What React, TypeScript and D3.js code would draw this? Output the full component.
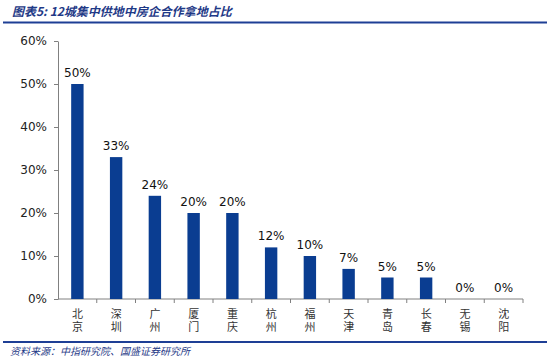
import React, { useEffect, useRef } from 'react';
import * as d3 from 'd3';

const cities = ['北京', '深圳', '广州', '厦门', '重庆', '杭州', '福州', '天津', '青岛', '长春', '无锡', '沈阳'];
const shares = [50, 33, 24, 20, 20, 12, 10, 7, 5, 5, 0, 0];
const yTicks = [0, 10, 20, 30, 40, 50, 60];

const title = '图表5:  12城集中供地中房企合作拿地占比';
const source = '资料来源：中指研究院、国盛证券研究所';

const App = () => {
  const svgRef = useRef<SVGSVGElement>(null);

  useEffect(() => {
    const width = 550;
    const height = 358;
    const margin = { left: 58, right: 27, top: 41, bottom: 59 };
    const blue = '#0a3d91';
    const textBlue = '#1f3a87';

    const svg = d3.select(svgRef.current)
      .attr('width', width)
      .attr('height', height)
      .style('position', 'absolute')
      .style('left', 0)
      .style('top', 0)
      .style('background', '#fff');

    svg.selectAll('*').remove();

    const x = d3.scaleBand()
      .domain(cities)
      .range([margin.left, width - margin.right])
      .paddingInner(0.68)
      .paddingOuter(0.34);

    const y = d3.scaleLinear()
      .domain([0, 60])
      .range([height - margin.bottom, margin.top]);

    // title and rules
    svg.append('text')
      .attr('x', 12)
      .attr('y', 16)
      .attr('fill', textBlue)
      .attr('font-size', 12)
      .attr('font-style', 'italic')
      .attr('font-weight', 'bold')
      .attr('font-family', '"Noto Sans CJK SC", sans-serif')
      .text(title);

    svg.append('line')
      .attr('x1', 3).attr('x2', 547)
      .attr('y1', 22.5).attr('y2', 22.5)
      .attr('stroke', '#1e3f95')
      .attr('stroke-width', 2);

    svg.append('line')
      .attr('x1', 3).attr('x2', 547)
      .attr('y1', 342).attr('y2', 342)
      .attr('stroke', '#1e3f95')
      .attr('stroke-width', 2);

    svg.append('text')
      .attr('x', 10)
      .attr('y', 355)
      .attr('fill', textBlue)
      .attr('font-size', 10)
      .attr('font-style', 'italic')
      .attr('font-family', '"Noto Sans CJK SC", sans-serif')
      .text(source);

    // y axis
    const yAxis = svg.append('g')
      .attr('transform', `translate(${margin.left},0)`)
      .call(d3.axisLeft(y).tickValues(yTicks).tickSize(4).tickSizeOuter(0).tickFormat(d => `${d}%`));
    yAxis.select('.domain').attr('stroke', '#808080');
    yAxis.selectAll('.tick line').attr('stroke', '#808080');
    yAxis.selectAll('.tick text')
      .attr('x', -11)
      .attr('fill', '#222')
      .attr('font-size', 12)
      .attr('font-family', 'Verdana, "DejaVu Sans", sans-serif');

    // x axis
    const step = x.step();
    const bounds = d3.range(cities.length + 1).map(i => margin.left + i * step);
    const xAxis = svg.append('g');
    xAxis.append('line')
      .attr('x1', margin.left).attr('x2', width - margin.right)
      .attr('y1', y(0)).attr('y2', y(0))
      .attr('stroke', '#808080');
    xAxis.selectAll('line.tick')
      .data(bounds.slice(1))
      .join('line')
      .attr('class', 'tick')
      .attr('x1', d => d).attr('x2', d => d)
      .attr('y1', y(0)).attr('y2', y(0) + 4)
      .attr('stroke', '#808080');

    // vertical city names
    svg.append('g')
      .attr('font-size', 11)
      .attr('fill', '#333')
      .attr('font-family', '"Noto Sans CJK SC", sans-serif')
      .selectAll('text')
      .data(cities)
      .join('text')
      .style('writing-mode', 'vertical-rl')
      .style('text-orientation', 'upright')
      .style('letter-spacing', '2px')
      .attr('x', d => x(d)! + x.bandwidth() / 2)
      .attr('y', y(0) + 9)
      .text(d => d);

    const rows = cities.map((c, i) => ({ city: c, value: shares[i] }));

    svg.append('g')
      .selectAll('rect')
      .data(rows)
      .join('rect')
      .attr('x', d => x(d.city)!)
      .attr('width', x.bandwidth())
      .attr('y', d => y(d.value))
      .attr('height', d => y(0) - y(d.value))
      .attr('fill', blue);

    svg.append('g')
      .attr('text-anchor', 'middle')
      .attr('font-size', 12)
      .attr('fill', '#111')
      .attr('font-family', 'Verdana, "DejaVu Sans", sans-serif')
      .selectAll('text')
      .data(rows)
      .join('text')
      .attr('x', d => x(d.city)! + x.bandwidth() / 2)
      .attr('y', d => y(d.value) - 7)
      .text(d => `${d.value}%`);
  }, []);

  return <svg ref={svgRef} />;
};

export default App;
